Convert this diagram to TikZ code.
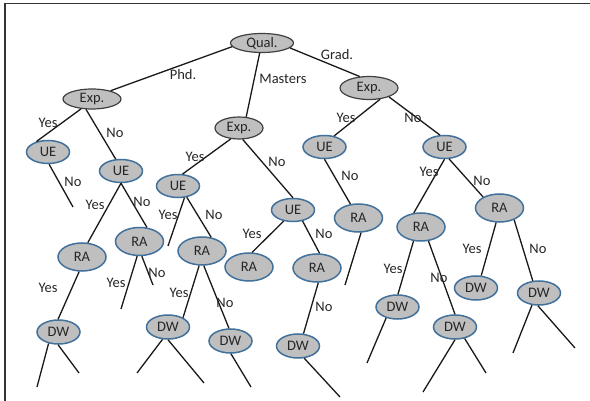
\documentclass[tikz,border=0pt]{standalone}
\usepackage{fontspec}
\setmainfont{Carlito}
\usetikzlibrary{shapes.geometric}
\definecolor{nodefill}{HTML}{BFBFBF}
\definecolor{blueedge}{HTML}{41719C}
\definecolor{darkedge}{HTML}{404040}
\definecolor{framecol}{HTML}{333333}
\begin{document}
\begin{tikzpicture}[x=1pt,y=-1pt,
  every node/.style={font=\fontsize{14.5}{17}\selectfont, text=black!85},
  nd/.style={ellipse, fill=nodefill, inner sep=0pt},
  dnode/.style={nd, draw=darkedge, line width=1.2pt},
  bnode/.style={nd, draw=blueedge, line width=1.5pt},
  uenode/.style={bnode, minimum width=43pt, minimum height=23pt},
  ranode/.style={bnode, minimum width=48pt, minimum height=28pt},
  dwnode/.style={bnode, minimum width=43pt, minimum height=24pt},
  lbl/.style={inner sep=0pt},
  edge/.style={draw=black!90, line width=1.3pt}
]
\useasboundingbox (0,0) rectangle (590,401);
\draw[line width=1.6pt, framecol] (5,401) -- (5,3.5) -- (590,3.5);

% nodes
\node[dnode, minimum width=63pt, minimum height=19pt] (qual) at (262,43) {Qual.};
\node[dnode, minimum width=58pt, minimum height=20pt] (expL) at (92,99) {Exp.};
\node[dnode, minimum width=48pt, minimum height=22pt] (expM) at (239,128) {Exp.};
\node[dnode, minimum width=58pt, minimum height=23pt] (expR) at (369,88) {Exp.};

\node[uenode] (ue1) at (48,152) {UE};
\node[uenode] (ue2) at (121,171) {UE};
\node[uenode] (ue3) at (178,186) {UE};
\node[uenode] (ue4) at (293,210) {UE};
\node[uenode] (ue5) at (324.5,147) {UE};
\node[uenode] (ue6) at (444.5,147) {UE};

\node[ranode] (ra1) at (82,257) {RA};
\node[ranode] (ra2) at (139.5,241.5) {RA};
\node[ranode] (ra3) at (202,251) {RA};
\node[ranode] (ra4) at (249,267) {RA};
\node[ranode] (ra5) at (317,268) {RA};
\node[ranode] (ra6) at (358.5,218) {RA};
\node[ranode] (ra7) at (421,227) {RA};
\node[ranode] (ra8) at (499.5,208) {RA};

\node[dwnode] (dw1) at (58.5,332) {DW};
\node[dwnode] (dw2) at (168,327) {DW};
\node[dwnode] (dw3) at (230.5,341) {DW};
\node[dwnode] (dw4) at (298,346) {DW};
\node[dwnode] (dw5) at (397.5,307) {DW};
\node[dwnode] (dw6) at (455,327) {DW};
\node[dwnode] (dw7) at (476,288) {DW};
\node[dwnode] (dw8) at (539,293) {DW};

% free ends
\coordinate (c1) at (73,207);
\coordinate (c2) at (168,246);
\coordinate (c3) at (340,397);
\coordinate (c4) at (345,285);
\coordinate (c5) at (367,363);
\coordinate (c6) at (423,392);
\coordinate (c7) at (486,373);
\coordinate (c8) at (513,353);
\coordinate (c9) at (575,348);
\coordinate (c10) at (37,387);
\coordinate (c11) at (79,373);
\coordinate (c12) at (121,309);
\coordinate (c13) at (153,285);
\coordinate (c14) at (137,373);
\coordinate (c15) at (204,383);
\coordinate (c16) at (251,387);

% edges
\draw[edge] (qual.187) -- (expL.24);
\draw[edge] (qual.257) -- (expM.57);
\draw[edge] (qual.350) -- (expR.129);

\draw[edge] (expL.222) -- (ue1.138);
\draw[edge] (expL.240) -- (ue2.114);
\draw[edge] (ue1.275) -- (c1);
\draw[edge] (ue2.270) -- (ra1.68);
\draw[edge] (ue2.270) -- (ra2.62);
\draw[edge] (ra1.259) -- (dw1.92);
\draw[edge] (dw1.229) -- (c10);
\draw[edge] (dw1.268) -- (c11);
\draw[edge] (ra2.261) -- (c12);
\draw[edge] (ra2.279) -- (c13);

\draw[edge] (expM.233) -- (ue3.69);
\draw[edge] (expM.288) -- (ue4.90);
\draw[edge] (ue3.299) -- (c2);
\draw[edge] (ue3.308) -- (ra3.56);
\draw[edge] (ra3.259) -- (dw2.32);
\draw[edge] (ra3.277) -- (dw3.97);
\draw[edge] (dw2.246) -- (c14);
\draw[edge] (dw2.270) -- (c15);
\draw[edge] (dw3.272) -- (c16);
\draw[edge] (ue4.230) -- (ra4.78);
\draw[edge] (ue4.311) -- (ra5.80);
\draw[edge] (ra5.275) -- (dw4.66);
\draw[edge] (dw4.297) -- (c3);

\draw[edge] (expR.315) -- (ue5.49);
\draw[edge] (expR.336) -- (ue6.111);
\draw[edge] (ue5.270) -- (ra6.120);
\draw[edge] (ra6.280) -- (c4);
\draw[edge] (ue6.270) -- (ra7.117);
\draw[edge] (ue6.291) -- (ra8.146);
\draw[edge] (ra7.242) -- (dw5.88);
\draw[edge] (ra7.298) -- (dw6.90);
\draw[edge] (dw5.224) -- (c5);
\draw[edge] (dw6.270) -- (c6);
\draw[edge] (dw6.310) -- (c7);
\draw[edge] (ra8.257) -- (dw7.67);
\draw[edge] (ra8.321) -- (dw8.117);
\draw[edge] (dw8.240) -- (c8);
\draw[edge] (dw8.265) -- (c9);

% labels
\node[lbl] (l1) at (183,75) {Phd.};
\node[lbl] (l2) at (283,79) {Masters};
\node[lbl] (l3) at (337,55) {Grad.};
\node[lbl] (l4) at (48,123) {Yes};
\node[lbl] (l5) at (115,133) {No};
\node[lbl] (l6) at (73,182) {No};
\node[lbl] (l7) at (195,157) {Yes};
\node[lbl] (l8) at (277,162) {No};
\node[lbl] (l9) at (346,118) {Yes};
\node[lbl] (l10) at (413,118) {No};
\node[lbl] (l11) at (350,176) {No};
\node[lbl] (l12) at (429,172) {Yes};
\node[lbl] (l13) at (482,181) {No};
\node[lbl] (l14) at (95,205) {Yes};
\node[lbl] (l15) at (142,202) {No};
\node[lbl] (l16) at (168,215) {Yes};
\node[lbl] (l17) at (214,215) {No};
\node[lbl] (l18) at (252,234) {Yes};
\node[lbl] (l19) at (324,234) {No};
\node[lbl] (l20) at (48,288) {Yes};
\node[lbl] (l21) at (116,283) {Yes};
\node[lbl] (l22) at (157,273) {No};
\node[lbl] (l23) at (179,293) {Yes};
\node[lbl] (l24) at (225,303) {No};
\node[lbl] (l25) at (393,269) {Yes};
\node[lbl] (l26) at (439,278) {No};
\node[lbl] (l27) at (472,249) {Yes};
\node[lbl] (l28) at (538,249) {No};
\node[lbl] (l29) at (324,307) {No};
\end{tikzpicture}
\end{document}
